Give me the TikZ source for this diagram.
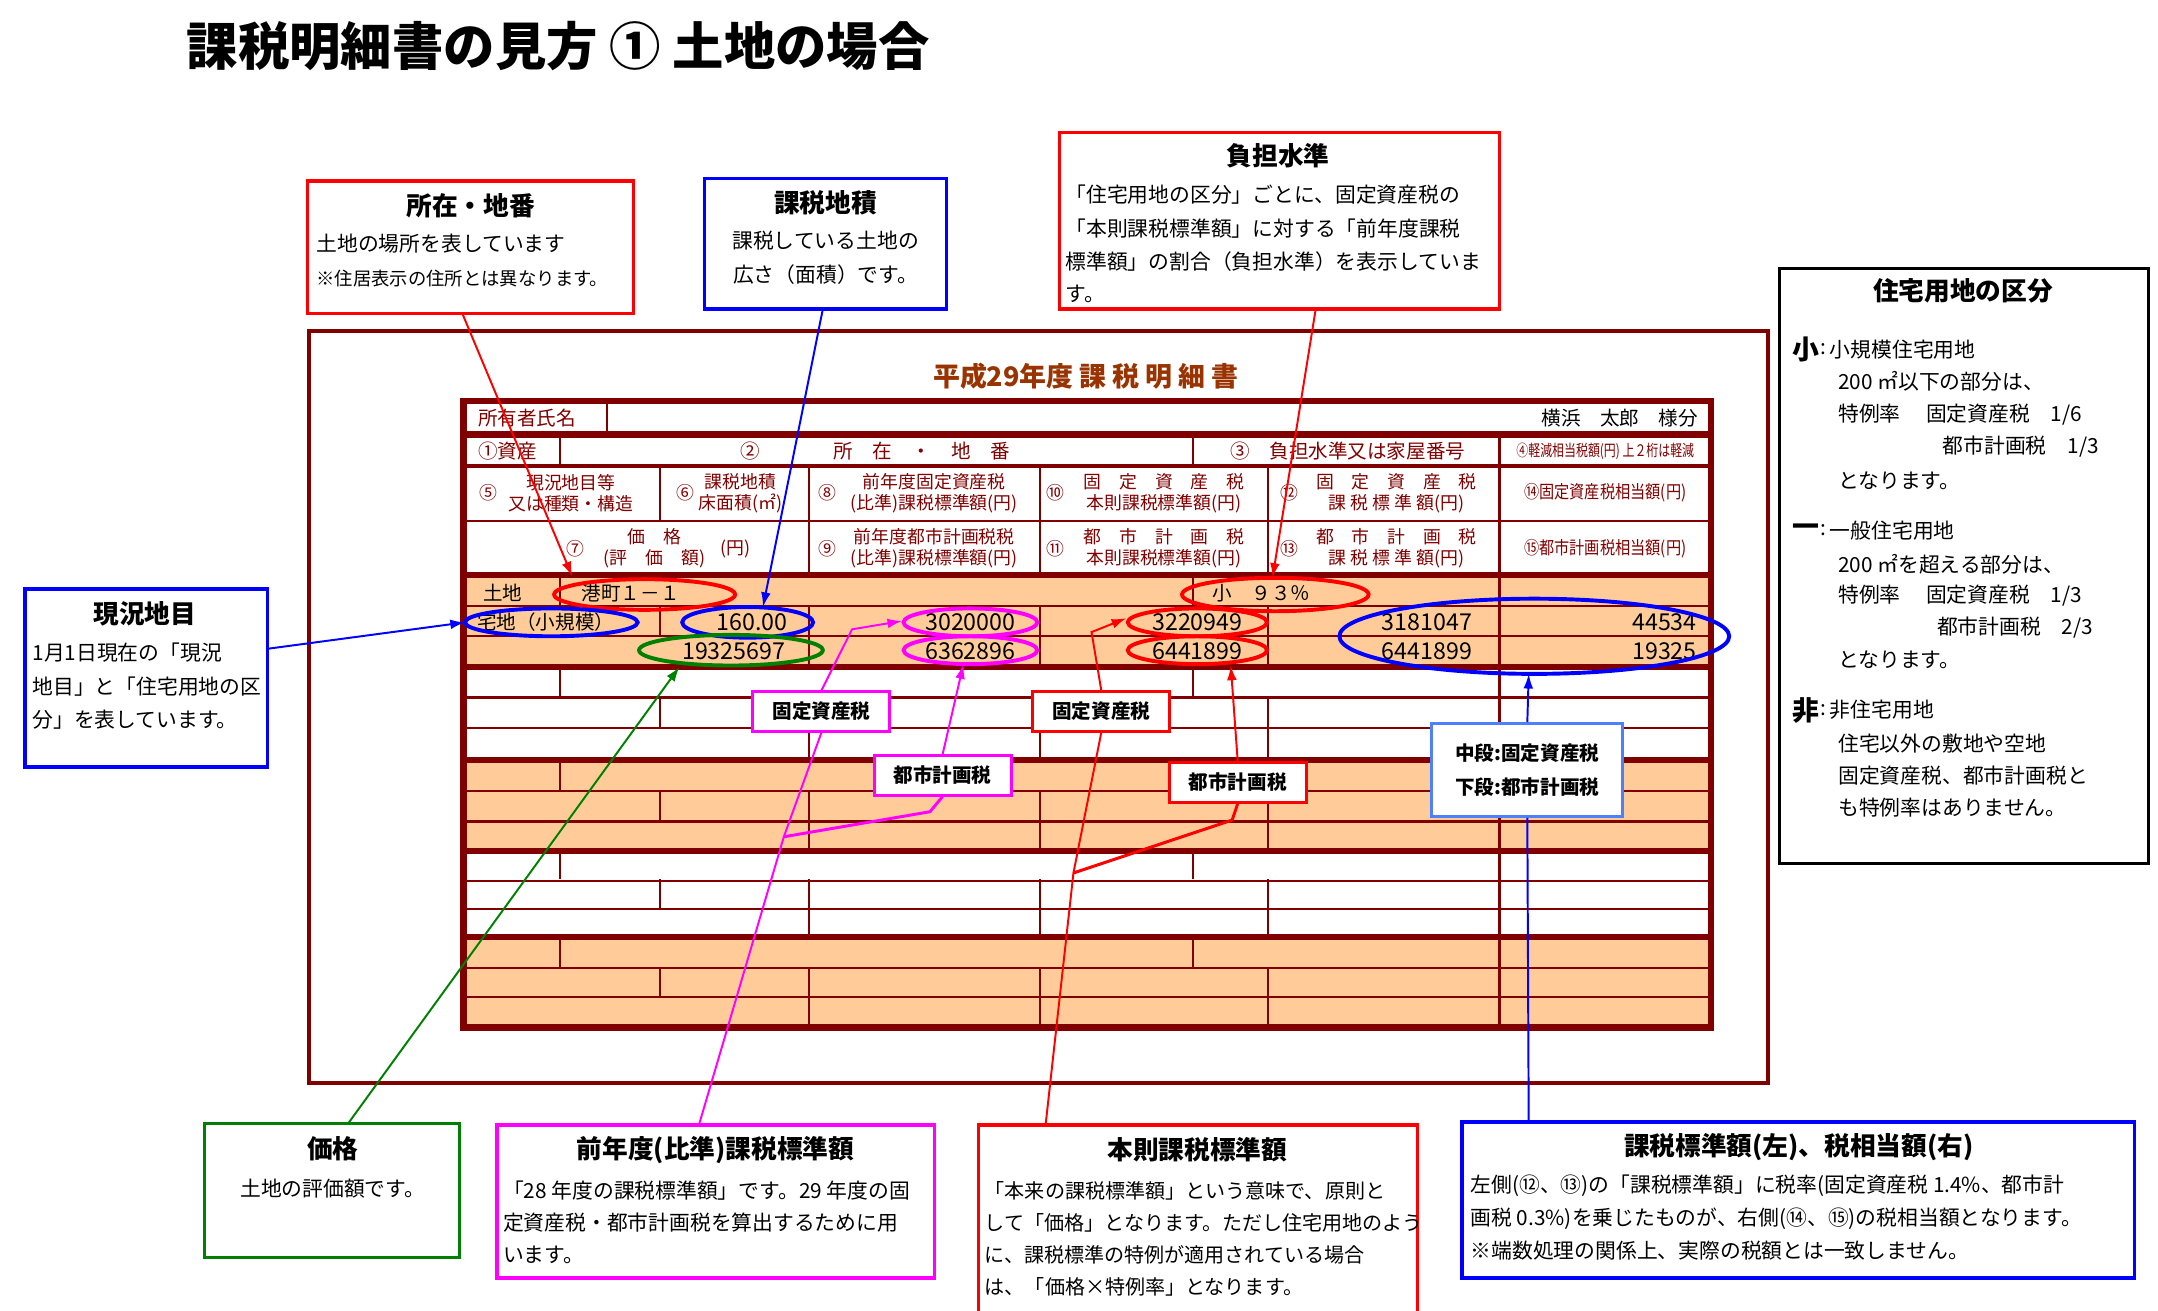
\documentclass[tikz,border=0pt]{standalone}
\usepackage{fontspec}
\setmainfont{Noto Sans CJK JP}
\usetikzlibrary{arrows.meta}
\definecolor{dr}{HTML}{800000}
\definecolor{org}{HTML}{FFCC99}
\definecolor{ttl}{HTML}{993300}
\definecolor{mag}{HTML}{FF00FF}
\definecolor{grn}{HTML}{008000}
\definecolor{lb}{HTML}{4D7FFF}
\tikzset{
 cbox/.style={line width=1.4pt,fill=white},
 ctitle/.style={font=\fontsize{10.5}{12}\selectfont\bfseries},
 ctext/.style={font=\fontsize{8.5}{10}\selectfont,anchor=west,inner sep=0pt},
 hd/.style={font=\fontsize{7.3}{8.6}\selectfont,text=dr,inner sep=0pt,align=center},
 dat/.style={font=\fontsize{9.5}{10}\selectfont,inner sep=0pt},
 thk/.style={dr,line width=2.6pt},
 thn/.style={dr,line width=0.9pt},
 ell/.style={line width=1.6pt},
 arr/.style={-{Latex[length=6pt,width=4pt]},line width=0.8pt},
 lab/.style={line width=1.2pt,fill=white,text=black,font=\fontsize{8}{9}\selectfont\bfseries,minimum width=56pt,minimum height=16pt}
}
\begin{document}
\begin{tikzpicture}[x=0.02cm,y=-0.02cm]
\useasboundingbox (0,0) rectangle (1550,941);
\node[font=\fontsize{21}{24}\selectfont\bfseries,anchor=west] (title) at (128,33) {課税明細書の見方 ① 土地の場合};
% outer frame
\draw[dr,line width=1.6pt] (222,238) rectangle (1270,778);
\node[font=\fontsize{11}{12}\selectfont\bfseries,text=ttl] (ttitle) at (780,270) {平成29年度 課 税 明 細 書};
% fills
\foreach \t in {413,546,673}{\fill[org] (333,\t) rectangle (1229,\t+65);}
% thin horizontal
\foreach \y in {374,435,457,501,523,568,590,633,653,695,716}{\draw[thn] (333,\y)--(1229,\y);}
\draw[dr,line width=1.6pt] (333,335)--(1229,335);
% verticals header
\draw[thn] (436,288)--(436,312);
\foreach \x in {402,857,1077}{\draw[thn] (\x,312)--(\x,335);}
\foreach \x in {474,581,747,911,1077}{\draw[thn] (\x,335)--(\x,374);}
\foreach \x in {581,747,911,1077}{\draw[thn] (\x,374)--(\x,413);}
\foreach \t/\b in {413/479,479/546,546/611,611/673,673/738}{
  \pgfmathsetmacro{\ya}{\t+(\b-\t)/3}\pgfmathsetmacro{\yb}{\t+2*(\b-\t)/3}
  \foreach \x in {402,857,1077}{\draw[thn] (\x,\t)--(\x,\ya);}
  \foreach \x in {474,581,747,911,1077}{\draw[thn] (\x,\ya)--(\x,\yb);}
  \foreach \x in {581,747,911,1077}{\draw[thn] (\x,\yb)--(\x,\b);}
}
\foreach \y in {312,413,479,546,611,673}{\draw[thk] (333,\y)--(1229,\y);}
\draw[thk] (333,288) rectangle (1229,738);
% header text
\node[hd,anchor=west] (h0) at (343,300) {\fontsize{8}{9}\selectfont 所有者氏名};
\node[font=\fontsize{8}{9}\selectfont,anchor=east,inner sep=0pt] (own) at (1220,300) {横浜　太郎　様分};
\node[hd,anchor=west] (h1) at (343,324) {\fontsize{8}{9}\selectfont ①資産};
\node[hd] (h2) at (539,324) {\fontsize{8}{9}\selectfont ②};
\node[hd] (h2b) at (662,324) {\fontsize{8}{9}\selectfont 所　在　・　地　番};
\node[hd] (h3) at (968,324) {\fontsize{8}{9}\selectfont ③　負担水準又は家屋番号};
\node[hd] (h4) at (1153,324) {\scalebox{0.75}[1]{\fontsize{6.5}{7}\selectfont ④軽減相当税額(円) 上２桁は軽減}};
\node[hd] (h5a) at (351,354) {⑤};
\node[hd] (h5) at (410,354) {現況地目等\\又は種類・構造};
\node[hd] (h6a) at (492,354) {⑥};
\node[hd] (h6) at (532,354) {課税地積\\床面積(㎡)};
\node[hd] (h8a) at (594,354) {⑧};
\node[hd] (h8) at (671,354) {前年度固定資産税\\(比準)課税標準額(円)};
\node[hd] (h10a) at (758,354) {⑩};
\node[hd] (h10) at (836,354) {固　定　資　産　税\\本則課税標準額(円)};
\node[hd] (h12a) at (926,354) {⑫};
\node[hd] (h12) at (1003,354) {固　定　資　産　税\\課 税 標 準 額(円)};
\node[hd] (h14) at (1153,354) {\scalebox{0.85}[1]{⑭固定資産税相当額(円)}};
\node[hd] (h7a) at (413,394) {⑦};
\node[hd] (h7) at (470,394) {価　格\\(評　価　額)};
\node[hd] (h7b) at (528,394) {(円)};
\node[hd] (h9a) at (594,394) {⑨};
\node[hd] (h9) at (671,394) {前年度都市計画税税\\(比準)課税標準額(円)};
\node[hd] (h11a) at (758,394) {⑪};
\node[hd] (h11) at (836,394) {都　市　計　画　税\\本則課税標準額(円)};
\node[hd] (h13a) at (926,394) {⑬};
\node[hd] (h13) at (1003,394) {都　市　計　画　税\\課 税 標 準 額(円)};
\node[hd] (h15) at (1153,394) {\scalebox{0.85}[1]{⑮都市計画税相当額(円)}};
% data
\node[dat,font=\fontsize{8}{9}\selectfont] (d1) at (361,426) {土地};
\node[dat,font=\fontsize{8}{9}\selectfont] (d2) at (453,426) {港町１－１};
\node[dat,font=\fontsize{8}{9}\selectfont] (d3) at (906,426) {小　９３％};
\node[dat,font=\fontsize{8}{9}\selectfont] (d4) at (392,447) {宅地（小規模）};
\node[dat] (d5) at (540,447) {160.00};
\node[dat] (d6) at (697,447) {3020000};
\node[dat] (d7) at (860,447) {3220949};
\node[dat] (d8) at (1025,447) {3181047};
\node[dat,anchor=east] (d9) at (1219,447) {44534};
\node[dat] (d10) at (527,468) {19325697};
\node[dat] (d11) at (697,468) {6362896};
\node[dat] (d12) at (860,468) {6441899};
\node[dat] (d13) at (1025,468) {6441899};
\node[dat,anchor=east] (d14) at (1219,468) {19325};
% ellipses
\draw[ell,red] (463,427) ellipse [x radius=65,y radius=11];
\draw[ell,red] (916,427) ellipse [x radius=67,y radius=12];
\draw[ell,blue] (396,447) ellipse [x radius=62,y radius=10];
\draw[ell,blue] (537,447) ellipse [x radius=47,y radius=11];
\draw[ell,mag] (697,447) ellipse [x radius=48,y radius=10];
\draw[ell,mag] (697,467) ellipse [x radius=48,y radius=10];
\draw[ell,red] (860,447) ellipse [x radius=50,y radius=10];
\draw[ell,red] (860,467) ellipse [x radius=50,y radius=10];
\draw[ell,grn] (525,467) ellipse [x radius=66,y radius=11];
\draw[ell,blue] (1102,457) ellipse [x radius=140,y radius=27];
% callout boxes
\draw[cbox,draw=red] (221,130) rectangle (455,225);
\node[ctitle] (c1t) at (338,148) {所在・地番};
\node[ctext] (c1a) at (227,175) {土地の場所を表しています};
\node[ctext,font=\fontsize{7.5}{9}\selectfont] (c1b) at (227,200) {※住居表示の住所とは異なります。};
\draw[cbox,draw=blue] (506,128) rectangle (680,222);
\node[ctitle] (c2t) at (593,146) {課税地積};
\node[font=\fontsize{8.5}{10}\selectfont,inner sep=0pt] (c2a) at (593,173) {課税している土地の};
\node[font=\fontsize{8.5}{10}\selectfont,inner sep=0pt] (c2b) at (593,197) {広さ（面積）です。};
\draw[cbox,draw=red] (761,95) rectangle (1077,222);
\node[ctitle] (c3t) at (918,112) {負担水準};
\node[ctext] (c3a) at (765,140) {「住宅用地の区分」ごとに、固定資産税の};
\node[ctext] (c3b) at (765,164) {「本則課税標準額」に対する「前年度課税};
\node[ctext] (c3c) at (765,188) {標準額」の割合（負担水準）を表示していま};
\node[ctext] (c3d) at (765,211) {す。};
\draw[cbox,draw=black] (1278,193) rectangle (1543,620);
\node[ctitle] (c4t) at (1410,209) {住宅用地の区分};
\node[ctext,font=\fontsize{11}{12}\selectfont\bfseries] (k1) at (1287,251) {小};
\node[ctext] (k1a) at (1307,251) {:};
\node[ctext] (k1z) at (1314,251) {小規模住宅用地};
\node[ctext] (k1b) at (1320,274) {200 ㎡以下の部分は、};
\node[ctext] (k1c) at (1320,298) {特例率　 固定資産税　1/6};
\node[ctext] (k1d) at (1395,321) {都市計画税　1/3};
\node[ctext] (k1e) at (1320,345) {となります。};
\node[ctext,font=\fontsize{11}{12}\selectfont\bfseries] (k2) at (1287,381) {一};
\node[ctext] (k2a) at (1307,381) {:};
\node[ctext] (k2z) at (1314,381) {一般住宅用地};
\node[ctext] (k2b) at (1320,405) {200 ㎡を超える部分は、};
\node[ctext] (k2c) at (1320,428) {特例率　 固定資産税　1/3};
\node[ctext] (k2d) at (1391,451) {都市計画税　2/3};
\node[ctext] (k2e) at (1320,474) {となります。};
\node[ctext,font=\fontsize{11}{12}\selectfont\bfseries] (k3) at (1287,510) {非};
\node[ctext] (k3a) at (1307,510) {:};
\node[ctext] (k3z) at (1314,510) {非住宅用地};
\node[ctext] (k3b) at (1320,534) {住宅以外の敷地や空地};
\node[ctext] (k3c) at (1320,557) {固定資産税、都市計画税と};
\node[ctext] (k3d) at (1320,580) {も特例率はありません。};
\draw[cbox,draw=blue] (18,423) rectangle (192,551);
\node[ctitle] (c5t) at (104,441) {現況地目};
\node[ctext] (c5a) at (23,469) {1月1日現在の「現況};
\node[ctext] (c5b) at (23,493) {地目」と「住宅用地の区};
\node[ctext] (c5c) at (23,517) {分」を表しています。};
\draw[cbox,draw=grn] (147,807) rectangle (330,903);
\node[ctitle] (c6t) at (239,825) {価格};
\node[font=\fontsize{8.5}{10}\selectfont,inner sep=0pt] (c6a) at (239,854) {土地の評価額です。};
\draw[cbox,draw=mag] (357,808) rectangle (671,918);
\node[ctitle] (c7t) at (514,826) {前年度(比準)課税標準額};
\node[ctext] (c7a) at (361,855) {「28 年度の課税標準額」です。29 年度の固};
\node[ctext] (c7b) at (361,878) {定資産税・都市計画税を算出するために用};
\node[ctext] (c7c) at (361,901) {います。};
\draw[cbox,draw=red] (703,808) rectangle (1018,950);
\node[ctitle] (c8t) at (860,826) {本則課税標準額};
\node[ctext,font=\fontsize{8.2}{10}\selectfont] (c8a) at (707,855) {「本来の課税標準額」という意味で、原則と};
\node[ctext,font=\fontsize{8.2}{10}\selectfont] (c8b) at (707,878) {して「価格」となります。ただし住宅用地のよう};
\node[ctext,font=\fontsize{8.2}{10}\selectfont] (c8c) at (707,901) {に、課税標準の特例が適用されている場合};
\node[ctext,font=\fontsize{8.2}{10}\selectfont] (c8d) at (707,924) {は、「価格×特例率」となります。};
\draw[cbox,draw=blue] (1050,806) rectangle (1533,918);
\node[ctitle] (c9t) at (1292,824) {課税標準額(左)、税相当額(右)};
\node[ctext] (c9a) at (1056,852) {左側(⑫、⑬)の「課税標準額」に税率(固定資産税 1.4\%、都市計};
\node[ctext] (c9b) at (1056,875) {画税 0.3\%)を乗じたものが、右側(⑭、⑮)の税相当額となります。};
\node[ctext] (c9c) at (1056,898) {※端数処理の関係上、実際の税額とは一致しません。};
% coordinates
\coordinate (a1s) at (332,225); \coordinate (a1e) at (411,414);
\coordinate (a2s) at (591,222); \coordinate (a2e) at (548,436);
\coordinate (a3s) at (945,222); \coordinate (a3e) at (914,415);
\coordinate (a5s) at (192,466); \coordinate (a5e) at (334,447);
\coordinate (a6s) at (250,807); \coordinate (a6e) at (488,479);
\coordinate (m1) at (612,452); \coordinate (m1e) at (648,446);
\coordinate (mb) at (563,601); \coordinate (mb2) at (668,583);
\coordinate (m7s) at (502,808); \coordinate (m2e) at (692,477);
\coordinate (r1) at (784,454); \coordinate (r1e) at (809,444);
\coordinate (rb) at (771,627); \coordinate (rb2) at (885,589);
\coordinate (r8s) at (751,808); \coordinate (r2e) at (884,478);
\coordinate (b9s) at (1098,806); \coordinate (b1e) at (1098,484);
% small label boxes
\node[lab,draw=mag] (lm1) at (590,511) {固定資産税};
\node[lab,draw=mag] (lm2) at (677,557) {都市計画税};
\node[lab,draw=red] (lr1) at (791,511) {固定資産税};
\node[lab,draw=red] (lr2) at (889,562) {都市計画税};
\node[draw=lb,line width=1.2pt,fill=white,font=\fontsize{8}{9}\selectfont\bfseries,align=center,minimum width=78pt,minimum height=38pt] (lb1) at (1097,553) {中段:固定資産税\\[5pt]下段:都市計画税};
% arrows
\draw[arr,red] (a1s)--(a1e);
\draw[arr,blue] (a2s)--(a2e);
\draw[arr,red] (a3s)--(a3e);
\draw[arr,blue] (a5s)--(a5e);
\draw[arr,grn] (a6s)--(a6e);
\draw[mag,line width=0.8pt] (m7s)--(mb)--(lm1.south);
\draw[arr,mag] (lm1.north)--(m1)--(m1e);
\draw[mag,line width=1.2pt] (mb)--(mb2)--(lm2.south);
\draw[arr,mag] (lm2.north)--(m2e);
\draw[red,line width=0.8pt] (r8s)--(rb)--(lr1.south);
\draw[arr,red] (lr1.north)--(r1)--(r1e);
\draw[red,line width=1.2pt] (rb)--(rb2)--(lr2.south);
\draw[arr,red] (lr2.north)--(r2e);
\draw[blue,line width=0.8pt] (b9s)--(lb1.south);
\draw[arr,blue] (lb1.north)--(b1e);
\end{tikzpicture}
\end{document}
